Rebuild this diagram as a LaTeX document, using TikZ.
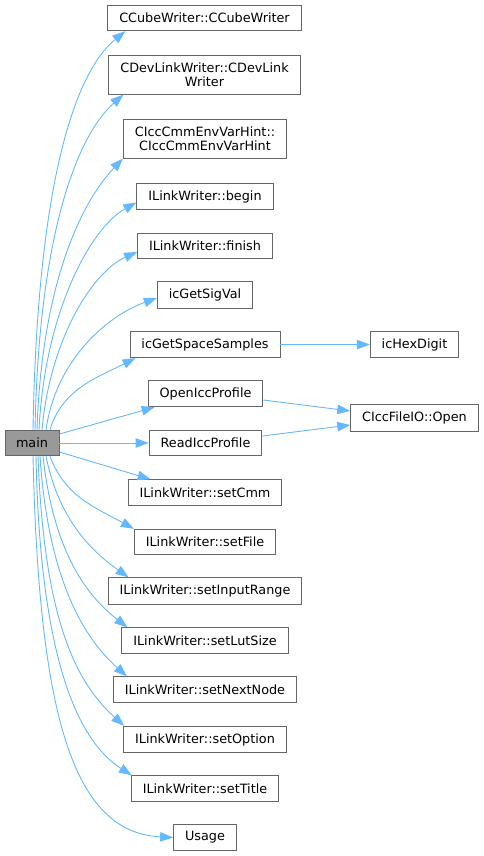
\documentclass[tikz,border=0pt]{standalone}
\usepackage{fontspec}
\setmainfont{DejaVu Sans}
\usepackage{tikz}
\usetikzlibrary{arrows.meta,positioning}
\definecolor{callblue}{HTML}{63B8FF}
\definecolor{boxline}{HTML}{666666}
\definecolor{mainfill}{HTML}{999999}

\begin{document}
\begin{tikzpicture}[x=1pt, y=-1pt, >={Triangle[length=13pt,width=9.5pt]},
  fn/.style={draw=boxline, line width=0.9pt, fill=white, inner xsep=11.5pt, inner ysep=7pt, minimum height=25.5pt, align=center, font=\fontsize{12.8}{14.3}\selectfont},
  mainfn/.style={fn, fill=mainfill, inner xsep=11pt},
  call/.style={->, callblue, line width=0.9pt}]
\useasboundingbox (0,0) rectangle (484,856);
\node[mainfn] (main) at (32,443) {main};
\node[fn] (ccube) at (204.5,18) {CCubeWriter::CCubeWriter};
\node[fn] (cdevlink) at (204.5,75) {CDevLinkWriter::CDevLink\\Writer};
\node[fn] (envhint) at (205,139) {CIccCmmEnvVarHint::\\CIccCmmEnvVarHint};
\node[fn] (begin) at (205,196.5) {ILinkWriter::begin};
\node[fn] (finish) at (205,246) {ILinkWriter::finish};
\node[fn] (sigval) at (205,295) {icGetSigVal};
\node[fn] (spacesamp) at (205,344.5) {icGetSpaceSamples};
\node[fn] (hexdigit) at (414.5,344.5) {icHexDigit};
\node[fn] (openicc) at (205.5,393.5) {OpenIccProfile};
\node[fn] (fileopen) at (414.5,418) {CIccFileIO::Open};
\node[fn] (readicc) at (205.5,443) {ReadIccProfile};
\node[fn] (setcmm) at (205,492.5) {ILinkWriter::setCmm};
\node[fn] (setfile) at (205,542) {ILinkWriter::setFile};
\node[fn] (setrange) at (205,591) {ILinkWriter::setInputRange};
\node[fn] (setlut) at (205,640.5) {ILinkWriter::setLutSize};
\node[fn] (setnext) at (205,689.5) {ILinkWriter::setNextNode};
\node[fn] (setoption) at (205,739.5) {ILinkWriter::setOption};
\node[fn] (settitle) at (205,788.5) {ILinkWriter::setTitle};
\node[fn] (usage) at (205,837.5) {Usage};

% calls going up
\draw[call] ([xshift=1pt]main.north) .. controls +(4,-230) and +(-55,45) .. ([xshift=18pt]ccube.south west);
\draw[call] ([xshift=3pt]main.north) .. controls +(4,-200) and +(-45,40) .. ([xshift=15pt]cdevlink.south west);
\draw[call] ([xshift=5pt]main.north) .. controls +(5,-150) and +(-40,42) .. (envhint.south west);
\draw[call] ([xshift=7pt]main.north) .. controls +(6,-120) and +(-45,25) .. ([yshift=-6pt]begin.west);
\draw[call] ([xshift=10pt]main.north) .. controls +(8,-90) and +(-45,20) .. ([yshift=-6pt]finish.west);
\draw[call] ([xshift=14pt]main.north) .. controls +(10,-70) and +(-50,18) .. ([yshift=-3pt]sigval.west);
\draw[call] ([xshift=18pt]main.north) .. controls +(12,-40) and +(-40,20) .. ([xshift=6pt]spacesamp.south west);
\draw[call] ([yshift=9pt]main.east) -- ([xshift=7pt]openicc.south west);
\draw[call] (main.east) -- (readicc.west);
\draw[call] ([yshift=-9pt]main.east) -- ([xshift=23pt]setcmm.north west);
% calls going down
\draw[call] ([xshift=18pt]main.south) .. controls +(15,40) and +(-40,-22) .. (setfile.north west);
\draw[call] ([xshift=14pt]main.south) .. controls +(12,60) and +(-40,-28) .. ([xshift=21pt]setrange.north west);
\draw[call] ([xshift=11pt]main.south) .. controls +(10,90) and +(-45,-35) .. ([xshift=6pt]setlut.north west);
\draw[call] ([xshift=8pt]main.south) .. controls +(8,120) and +(-45,-40) .. ([xshift=14pt]setnext.north west);
\draw[call] ([xshift=6pt]main.south) .. controls +(6,160) and +(-50,-45) .. ([xshift=1pt]setoption.north west);
\draw[call] ([xshift=4pt]main.south) .. controls +(4,200) and +(-55,-35) .. ([xshift=1pt]settitle.north west);
\draw[call] ([xshift=1pt]main.south) .. controls +(6,260) and +(-100,-5) .. (usage.west);
% second level
\draw[call] (spacesamp.east) -- (hexdigit.west);
\draw[call] ([yshift=-6.5pt]openicc.east) -- ([yshift=7pt]fileopen.west);
\draw[call] ([yshift=7pt]readicc.east) -- ([yshift=-7pt]fileopen.west);
\end{tikzpicture}
\end{document}
